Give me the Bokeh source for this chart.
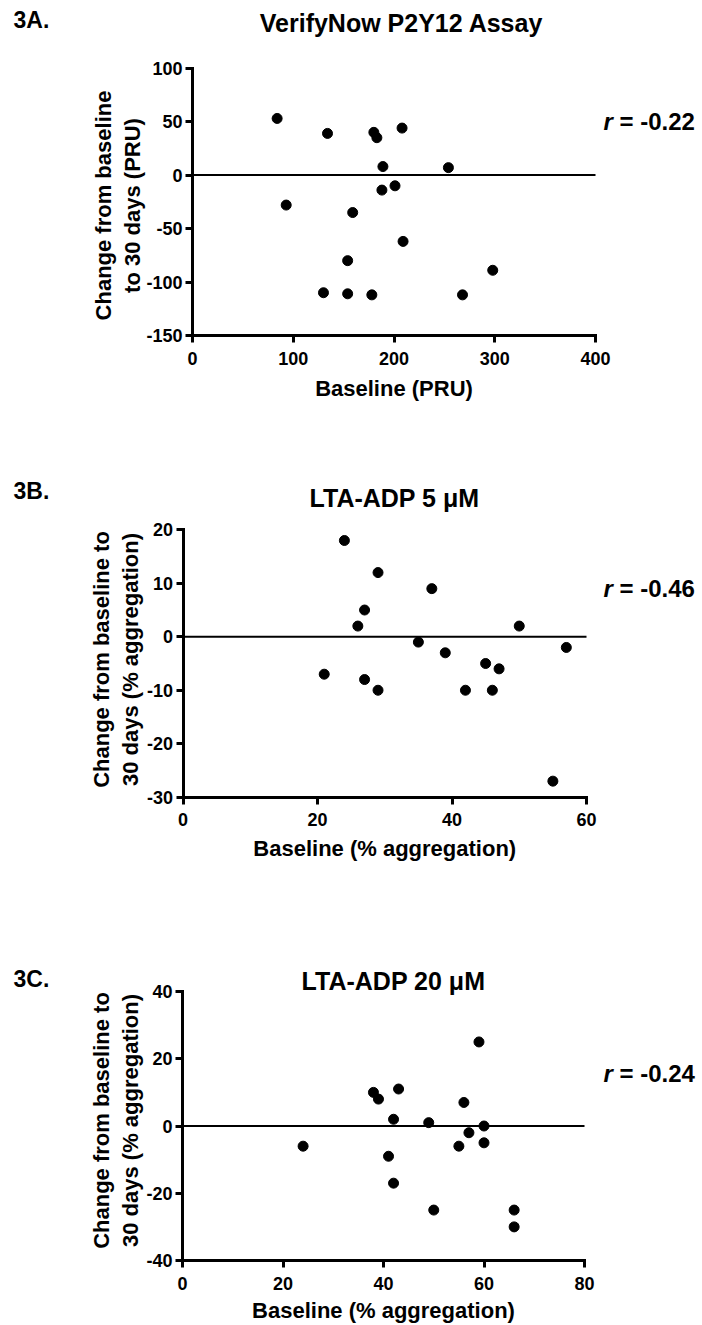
import math
from bokeh.plotting import figure
from bokeh.models import Range1d, FixedTicker, Label, ColumnDataSource, PrintfTickFormatter
from bokeh.layouts import column
from bokeh.embed import file_html
from bokeh.resources import INLINE

# ---------------- data ----------------
a_baseline = [84, 134, 180, 183, 208, 189, 254, 201, 188, 93, 159, 209, 154, 298, 130, 154, 178, 268]
a_change = [53, 39, 40, 35, 44, 8, 7, -10, -14, -28, -35, -62, -80, -89, -110, -111, -112, -112]

b_baseline = [24, 29, 37, 27, 26, 50, 35, 57, 39, 45, 47, 21, 27, 29, 42, 46, 55]
b_change = [18, 12, 9, 5, 2, 2, -1, -2, -3, -5, -6, -7, -8, -10, -10, -10, -27]

c_baseline = [59, 38, 39, 43, 56, 42, 49, 60, 57, 55, 60, 24, 41, 42, 50, 66, 66]
c_change = [25, 10, 8, 11, 7, 2, 1, 0, -2, -6, -5, -6, -9, -17, -25, -25, -30]

a_xticks = [0, 100, 200, 300, 400]
a_yticks = [-150, -100, -50, 0, 50, 100]
b_xticks = [0, 20, 40, 60]
b_yticks = [-30, -20, -10, 0, 10, 20]
c_xticks = [0, 20, 40, 60, 80]
c_yticks = [-40, -20, 0, 20, 40]

FONT = "Liberation Sans"
PAGE_W = 702

panels = [
    dict(tag="3A.", title="VerifyNow P2Y12 Assay", r="-0.22",
         x=a_baseline, y=a_change, xr=(0, 400), yr=(-150, 100),
         xt=a_xticks, yt=a_yticks,
         ylab=["Change from baseline", "to 30 days (PRU)"],
         xlab="Baseline (PRU)",
         top=0, height=440, fl=192, fr=595, ft=67.7, fb=335,
         tag_y=19, title_x=401, title_y=22, r_y=121,
         ylab_x=[103, 132], ylab_y=205, xlab_y=388),
    dict(tag="3B.", title="LTA-ADP 5 \u03bcM", r="-0.46",
         x=b_baseline, y=b_change, xr=(0, 60), yr=(-30, 20),
         xt=b_xticks, yt=b_yticks,
         ylab=["Change from baseline to", "30 days (% aggregation)"],
         xlab="Baseline (% aggregation)",
         top=440, height=440, fl=182.5, fr=586, ft=529.3, fb=796.7,
         tag_y=490, title_x=394, title_y=497, r_y=588,
         ylab_x=[101, 130], ylab_y=659, xlab_y=848),
    dict(tag="3C.", title="LTA-ADP 20 \u03bcM", r="-0.24",
         x=c_baseline, y=c_change, xr=(0, 80), yr=(-40, 40),
         xt=c_xticks, yt=c_yticks,
         ylab=["Change from baseline to", "30 days (% aggregation)"],
         xlab="Baseline (% aggregation)",
         top=880, height=445, fl=182, fr=584, ft=991, fb=1260,
         tag_y=978, title_x=393, title_y=980, r_y=1073,
         ylab_x=[101, 130], ylab_y=1120, xlab_y=1310),
]

figs = []
for P in panels:
    x0, x1 = P["xr"]
    y0, y1 = P["yr"]
    sx = (P["fr"] - P["fl"]) / (x1 - x0)
    sy = (P["fb"] - P["ft"]) / (y1 - y0)
    top, bot = P["top"], P["top"] + P["height"]
    xs = x0 - P["fl"] / sx
    xe = x1 + (PAGE_W - P["fr"]) / sx
    ye = y1 + (P["ft"] - top) / sy
    ys = y0 - (bot - P["fb"]) / sy

    def to_data(px, py):
        return xs + px / sx, ye - (py - top) / sy

    p = figure(frame_width=PAGE_W, frame_height=P["height"], min_border=0,
               x_range=Range1d(xs, xe), y_range=Range1d(ys, ye),
               output_backend="svg", toolbar_location=None,
               background_fill_color="white", border_fill_color="white")
    p.outline_line_color = None
    p.grid.visible = False

    xa, ya = p.xaxis[0], p.yaxis[0]
    xa.fixed_location = y0
    ya.fixed_location = x0
    xa.bounds = (x0, x1)
    ya.bounds = (y0, y1)
    for ax in (xa, ya):
        ax.axis_line_width = 3
        ax.axis_line_color = "black"
        ax.axis_line_cap = "square"
        ax.major_tick_line_width = 3
        ax.major_tick_line_color = "black"
        ax.major_tick_in = 0
        ax.major_tick_out = 7
        ax.minor_tick_line_color = None
        ax.formatter = PrintfTickFormatter(format="%d")
        ax.major_label_text_font = FONT
        ax.major_label_text_font_style = "bold"
        ax.major_label_text_font_size = "18px"
        ax.major_label_text_color = "black"
    xa.ticker = FixedTicker(ticks=P["xt"])
    ya.ticker = FixedTicker(ticks=P["yt"])
    xa.major_label_standoff = 9
    ya.major_label_standoff = 3

    # zero reference line across the x range
    p.line(x=[x0, x1], y=[0, 0], line_color="black", line_width=2)

    src = ColumnDataSource(dict(x=P["x"], y=P["y"]))
    p.scatter("x", "y", source=src, size=10, fill_color="black", line_color="black",
              marker="circle")

    def add_text(px, py, text, size, style="bold", align="left", angle=0.0):
        tx, ty = to_data(px, py)
        p.add_layout(Label(x=tx, y=ty, text=text, text_font=FONT, text_font_style=style,
                           text_font_size=size, text_align=align, text_baseline="middle",
                           angle=angle, text_color="black"))

    add_text(13, P["tag_y"], P["tag"], "23px")
    add_text(P["title_x"], P["title_y"], P["title"], "25px", align="center")
    add_text(603, P["r_y"], "r", "24px", style="bold italic")
    add_text(619, P["r_y"], "= " + P["r"], "24px")
    for line, lx in zip(P["ylab"], P["ylab_x"]):
        add_text(lx, P["ylab_y"], line, "22px", align="center", angle=math.pi / 2)
    add_text((P["fl"] + P["fr"]) / 2, P["xlab_y"], P["xlab"], "22px", align="center")
    figs.append(p)

layout = column(*figs, spacing=0)
open("out.html", "w").write(file_html(layout, INLINE))
